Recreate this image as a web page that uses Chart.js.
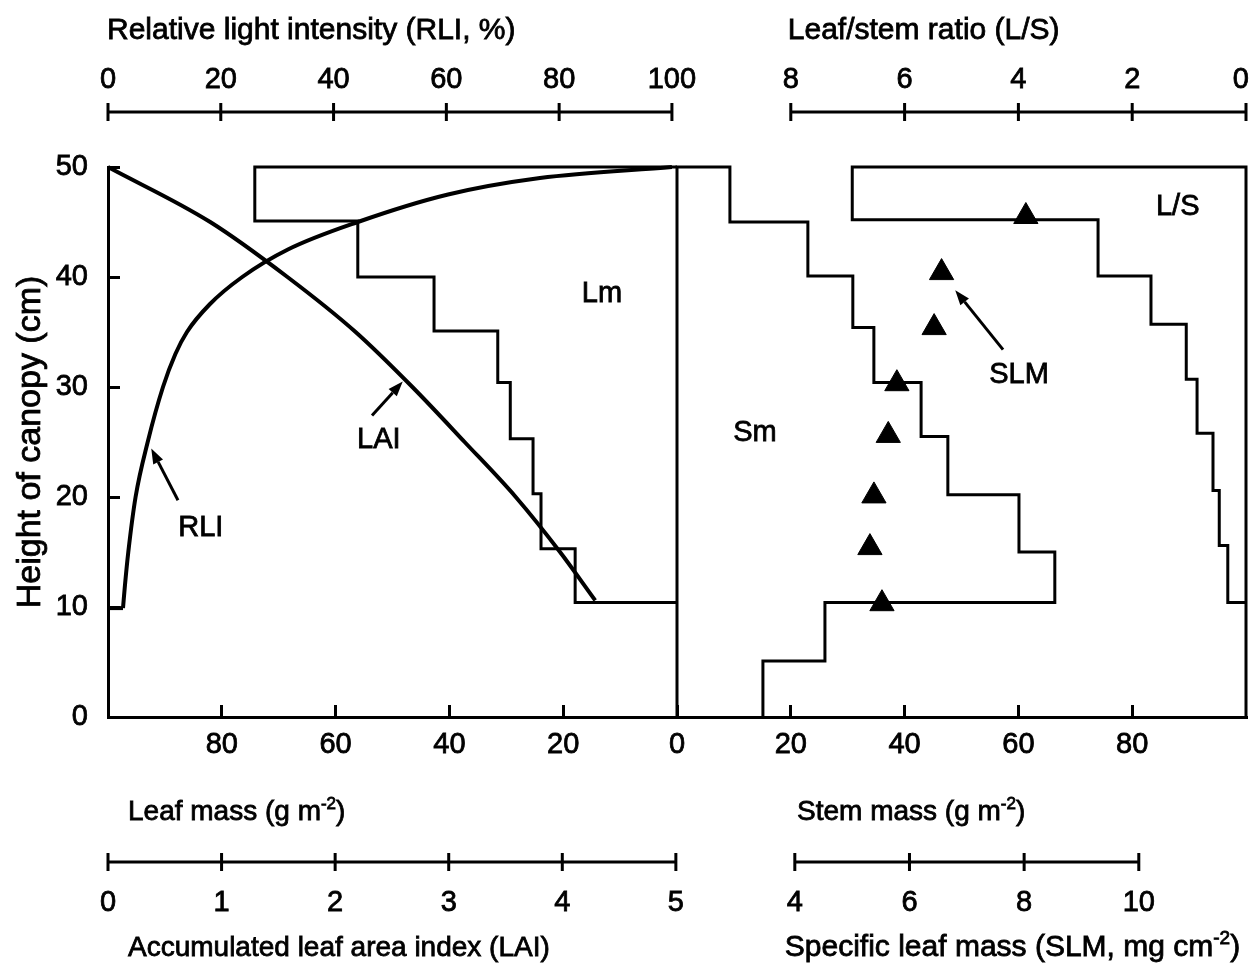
<!DOCTYPE html>
<html>
<head>
<meta charset="utf-8">
<title>Canopy profile</title>
<script src="https://cdn.jsdelivr.net/npm/chart.js@4.4.1/dist/chart.umd.min.js"></script>
<style>
  html, body { margin: 0; padding: 0; background: #fff; }
  canvas { display: block; }
</style>
</head>
<body>
<canvas id="canopy" width="1251" height="968"></canvas>
<script>
// main axes
const massTicks = [-80, -60, -40, -20, 0, 20, 40, 60, 80];
const heightTicks = [0, 10, 20, 30, 40, 50];

// leaf mass per layer (g m-2), layer boundaries in cm
const leafMass = [74.2, 56.1, 42.7, 31.5, 29.3, 25.3, 23.9, 17.9];
const leafBounds = [50, 45.1, 40, 35.1, 30.4, 25.3, 20.3, 15.3, 10.4];

// stem mass per layer (g m-2)
const stemMass = [9.3, 23.0, 30.9, 34.6, 42.9, 47.6, 60.1, 66.4, 26.0, 15.1];
const stemBounds = [50, 45, 40.1, 35.4, 30.4, 25.5, 20.2, 15, 10.4, 5.1, 0];

// leaf/stem ratio per layer
const lsRatio = [6.92, 2.60, 1.67, 1.05, 0.86, 0.58, 0.47, 0.32];
const lsBounds = [50, 45.2, 40.1, 35.7, 30.7, 25.8, 20.6, 15.6, 10.4];

// relative light intensity profile (%)
const rliPct = [0, 2.66, 3.01, 3.60, 4.89, 7.04, 9.75, 11.95, 14.0, 18.0, 23.8, 31.9, 44.3, 60.3, 76.6, 100];
const rliHeight = [9.9, 9.9, 12, 15, 20, 25, 30, 33, 35, 37.5, 40, 42.5, 45, 47.5, 49, 50];

// accumulated leaf area index from the top down
const laiValues = [0, 0.90, 1.58, 2.18, 2.68, 3.14, 3.59, 3.98, 4.29];
const laiHeight = [50, 45, 40, 35, 30, 25, 20, 15, 10.6];

// specific leaf mass (mg cm-2)
const slmValues = [8.03, 6.56, 6.43, 5.78, 5.63, 5.38, 5.31, 5.52];
const slmHeight = [45.5, 40.4, 35.4, 30.3, 25.6, 20.1, 15.4, 10.3];

// extra rulers above and below the plot
const rliTicks = [0, 20, 40, 60, 80, 100];
const lsTicks = [8, 6, 4, 2, 0];
const laiTicks = [0, 1, 2, 3, 4, 5];
const slmTicks = [4, 6, 8, 10];

// in-plot labels (main x units, height) and arrows [tail, head]
const notes = [
  { text: 'Lm', x: -13.2, y: 38.5 },
  { text: 'L/S', x: 88.0, y: 46.4 },
  { text: 'SLM', x: 60.1, y: 31.1 },
  { text: 'Sm', x: 13.7, y: 25.8 },
  { text: 'LAI', x: -52.4, y: 25.2 },
  { text: 'RLI', x: -83.7, y: 17.2 }
];
const arrows = [
  [[57.3, 33.4], [48.9, 38.8]],
  [[-53.6, 27.4], [-48.2, 30.5]],
  [[-87.7, 19.7], [-92.4, 24.4]]
];

const FONT = '"Liberation Sans", Arial, Helvetica, sans-serif';
const INK = '#000';
const HEAVY = 0.8;   // extra stroke so the lettering reads a bit heavier

// turn per-layer values into a stepped outline
function steps(values, bounds, sign) {
  const pts = [];
  values.forEach((v, i) => {
    pts.push({ x: sign * v, y: bounds[i] });
    pts.push({ x: sign * v, y: bounds[i + 1] });
  });
  return pts;
}

function pairs(xs, ys) {
  return xs.map((x, i) => ({ x: x, y: ys[i] }));
}

const leafOutline = [{ x: 0, y: 50 }].concat(steps(leafMass, leafBounds, -1), [{ x: 0, y: leafBounds[leafBounds.length - 1] }]);
const stemOutline = [{ x: 0, y: 0 }, { x: 0, y: 50 }].concat(steps(stemMass, stemBounds, 1));
const lsOutline = [{ x: 0, y: 0 }, { x: 0, y: 50 }].concat(steps(lsRatio, lsBounds, 1), [{ x: 0, y: lsBounds[lsBounds.length - 1] }]);
const rliPoints = pairs(rliPct, rliHeight);

function lineSet(data, axis, width, smooth) {
  return {
    data: data,
    xAxisID: axis,
    yAxisID: 'y',
    borderColor: INK,
    borderWidth: width,
    tension: smooth ? 0.4 : 0,
    cubicInterpolationMode: smooth ? 'monotone' : 'default',
    pointRadius: 0,
    fill: false,
    clip: false
  };
}

function text(ctx, str, x, y, size, align) {
  ctx.font = size + 'px ' + FONT;
  ctx.textAlign = align || 'left';
  ctx.lineWidth = HEAVY;
  ctx.fillText(str, x, y);
  ctx.strokeText(str, x, y);
}

// title with a raised "-2" exponent
function supTitle(ctx, parts, x, y, size) {
  let cx = x;
  ctx.textAlign = 'left';
  ctx.lineWidth = HEAVY;
  parts.forEach(p => {
    const sup = p[1];
    const ty = sup ? y - size * 0.4 : y;
    ctx.font = (sup ? Math.round(size * 0.62) : size) + 'px ' + FONT;
    ctx.fillText(p[0], cx, ty);
    ctx.strokeText(p[0], cx, ty);
    cx += ctx.measureText(p[0]).width;
  });
}

// horizontal ruler with crossing ticks, drawn from a hidden scale
function ruler(ctx, scale, y, ticks, labelY) {
  const px = ticks.map(v => scale.getPixelForValue(v));
  const edge = ctx.canvas.width - 2;
  ctx.lineWidth = 3;
  ctx.beginPath();
  ctx.moveTo(Math.min.apply(null, px), y);
  ctx.lineTo(Math.max.apply(null, px), y);
  px.forEach(p => { ctx.moveTo(p, y - 9); ctx.lineTo(p, y + 9); });
  ctx.stroke();
  ctx.font = '29px ' + FONT;
  ticks.forEach((v, i) => {
    // keep the last label inside the canvas
    const half = ctx.measureText(String(v)).width / 2;
    text(ctx, String(v), Math.min(px[i], edge - half), labelY, 29, 'center');
  });
}

function arrow(ctx, x1, y1, x2, y2) {
  const a = Math.atan2(y2 - y1, x2 - x1);
  const len = 15, half = 5.5;
  const bx = x2 - Math.cos(a) * len, by = y2 - Math.sin(a) * len;
  ctx.lineWidth = 3;
  ctx.beginPath();
  ctx.moveTo(x1, y1);
  ctx.lineTo(bx, by);
  ctx.stroke();
  ctx.beginPath();
  ctx.moveTo(x2, y2);
  ctx.lineTo(bx - Math.sin(a) * half, by + Math.cos(a) * half);
  ctx.lineTo(bx + Math.sin(a) * half, by - Math.cos(a) * half);
  ctx.closePath();
  ctx.fill();
}

const decorations = {
  id: 'decorations',
  afterDraw(chart) {
    const ctx = chart.ctx;
    const s = chart.scales;
    const area = chart.chartArea;
    ctx.save();
    ctx.strokeStyle = INK;
    ctx.fillStyle = INK;
    ctx.textBaseline = 'alphabetic';

    // top rulers
    ruler(ctx, s.rli, 112, rliTicks, 88);
    ruler(ctx, s.ls, 112, lsTicks, 88);
    text(ctx, 'Relative light intensity (RLI, %)', s.rli.getPixelForValue(0) - 1, 39, 30);
    text(ctx, 'Leaf/stem ratio (L/S)', s.ls.getPixelForValue(8) - 3, 39, 30);

    // bottom rulers
    ruler(ctx, s.lai, 862, laiTicks, 911);
    ruler(ctx, s.slm, 862, slmTicks, 911);
    supTitle(ctx, [['Leaf mass (g m', false], ['-2', true], [')', false]], 128, 820, 28);
    supTitle(ctx, [['Stem mass (g m', false], ['-2', true], [')', false]], 797, 820, 28);
    text(ctx, 'Accumulated leaf area index (LAI)', s.lai.getPixelForValue(0) + 20, 956, 28);
    supTitle(ctx, [['Specific leaf mass (SLM, mg cm', false], ['-2', true], [')', false]], s.slm.getPixelForValue(4) - 10, 956, 30);

    // vertical axis title
    ctx.save();
    ctx.translate(31, (area.top + area.bottom) / 2);
    ctx.rotate(-Math.PI / 2);
    ctx.textBaseline = 'middle';
    text(ctx, 'Height of canopy (cm)', 0, 0, 34, 'center');
    ctx.restore();

    // labels and arrows inside the plot
    ctx.textBaseline = 'middle';
    notes.forEach(n => text(ctx, n.text, s.x.getPixelForValue(n.x), s.y.getPixelForValue(n.y), 29, 'center'));
    arrows.forEach(a => arrow(ctx,
      s.x.getPixelForValue(a[0][0]), s.y.getPixelForValue(a[0][1]),
      s.x.getPixelForValue(a[1][0]), s.y.getPixelForValue(a[1][1])));
    ctx.restore();
  }
};

// hidden scales that only carry a value range for the rulers and series
function hiddenScale(position, min, max, reverse) {
  return {
    type: 'linear', position: position, display: false,
    min: min, max: max, reverse: !!reverse,
    ticks: { display: false }
  };
}

const tickFont = { family: FONT, size: 29 };

new Chart(document.getElementById('canopy'), {
  type: 'line',
  data: {
    datasets: [
      lineSet(leafOutline, 'x', 3, false),
      lineSet(stemOutline, 'x', 3, false),
      lineSet(lsOutline, 'ls', 3, false),
      lineSet(rliPoints.slice(0, 2), 'rli', 4, false),
      lineSet(rliPoints.slice(1), 'rli', 4, true),
      lineSet(pairs(laiValues, laiHeight), 'lai', 4, true),
      {
        data: pairs(slmValues, slmHeight),
        xAxisID: 'slm',
        yAxisID: 'y',
        showLine: false,
        pointStyle: 'triangle',
        pointRadius: 14,
        pointBackgroundColor: INK,
        pointBorderColor: INK,
        pointBorderWidth: 1,
        clip: false
      }
    ]
  },
  options: {
    responsive: false,
    animation: false,
    events: [],
    layout: { autoPadding: false, padding: { top: 167, right: 5, bottom: 191, left: 0 } },
    plugins: { legend: { display: false }, tooltip: { enabled: false } },
    scales: {
      x: {
        type: 'linear',
        min: -100,
        max: 100,
        afterBuildTicks: sc => { sc.ticks = massTicks.map(v => ({ value: v })); },
        afterFit: sc => { sc.height = 60; sc.paddingLeft = 0; sc.paddingRight = 0; },
        border: { color: INK, width: 3 },
        grid: { drawOnChartArea: false, color: INK, lineWidth: 3, tickLength: -12 },
        ticks: {
          callback: v => Math.abs(v),
          color: INK,
          font: tickFont,
          textStrokeColor: INK,
          textStrokeWidth: HEAVY,
          padding: 23,
          maxRotation: 0,
          autoSkip: false
        }
      },
      y: {
        type: 'linear',
        min: 0,
        max: 50,
        afterBuildTicks: sc => { sc.ticks = heightTicks.map(v => ({ value: v })); },
        afterFit: sc => { sc.width = 108; },
        border: { color: INK, width: 3 },
        grid: { drawOnChartArea: false, color: INK, lineWidth: 3, tickLength: -12 },
        ticks: { color: INK, font: tickFont, textStrokeColor: INK, textStrokeWidth: HEAVY, padding: 32 }
      },
      rli: hiddenScale('top', 0, 201.8),
      ls: hiddenScale('top', 0, 20, true),
      lai: hiddenScale('bottom', 0, 10.02),
      slm: hiddenScale('bottom', -7.98, 11.87)
    }
  },
  plugins: [decorations]
});
</script>
</body>
</html>
